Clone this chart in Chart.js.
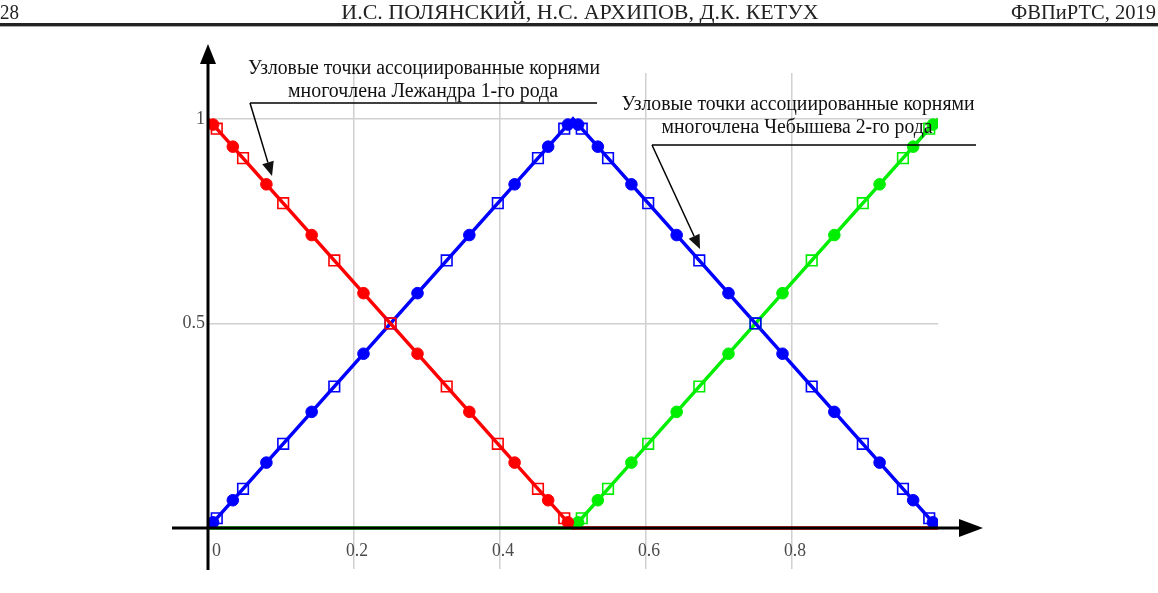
<!DOCTYPE html>
<html>
<head>
<meta charset="utf-8">
<script src="https://cdn.jsdelivr.net/npm/chart.js@4/dist/chart.umd.min.js"></script>
<style>
  html, body { margin: 0; padding: 0; background: #fff; }
  #wrap { width: 1158px; height: 593px; position: relative; }
</style>
</head>
<body>
<div id="wrap"><canvas id="chart" width="1158" height="593"></canvas></div>
<script>
// узлы и значения

// абсциссы узлов (кружки) - корни многочлена Лежандра на каждой половине отрезка
const circX = [0.007, 0.034, 0.080, 0.142, 0.213, 0.287, 0.358, 0.420, 0.466, 0.493,
               0.507, 0.534, 0.580, 0.642, 0.713, 0.787, 0.858, 0.920, 0.966, 0.993];
// абсциссы узлов (квадраты) - корни многочлена Чебышева 2-го рода
const sqX = [0.012, 0.048, 0.103, 0.173, 0.250, 0.327, 0.397, 0.452, 0.488,
             0.512, 0.548, 0.603, 0.673, 0.750, 0.827, 0.897, 0.952, 0.988];

const redCircY   = [0.986, 0.932, 0.840, 0.716, 0.574, 0.426, 0.284, 0.160, 0.068, 0.014,
                    null, null, null, null, null, null, null, null, null, null];
const blueCircY  = [0.014, 0.068, 0.160, 0.284, 0.426, 0.574, 0.716, 0.840, 0.932, 0.986,
                    0.986, 0.932, 0.840, 0.716, 0.574, 0.426, 0.284, 0.160, 0.068, 0.014];
const greenCircY = [null, null, null, null, null, null, null, null, null, null,
                    0.014, 0.068, 0.160, 0.284, 0.426, 0.574, 0.716, 0.840, 0.932, 0.986];

const redSqY   = [0.976, 0.904, 0.794, 0.654, 0.500, 0.346, 0.206, 0.096, 0.024,
                  null, null, null, null, null, null, null, null, null];
const blueSqY  = [0.024, 0.096, 0.206, 0.346, 0.500, 0.654, 0.794, 0.904, 0.976,
                  0.976, 0.904, 0.794, 0.654, 0.500, 0.346, 0.206, 0.096, 0.024];
const greenSqY = [null, null, null, null, null, null, null, null, null,
                  0.024, 0.096, 0.206, 0.346, 0.500, 0.654, 0.794, 0.904, 0.976];

// базисные функции (ломаные)
const lineX = [0, 0.5, 1];
const redLineY   = [1, 0, 0];
const blueLineY  = [0, 1, 0];
const greenLineY = [0, 0, 1];

const xTicks = [0, 0.2, 0.4, 0.6, 0.8];
const xTickLabels = ['0', '0.2', '0.4', '0.6', '0.8'];
const yTicks = [0.5, 1];
const yTickLabels = ['0.5', '1'];

const headerLeft = '28';
const headerCenter = 'И.С. ПОЛЯНСКИЙ, Н.С. АРХИПОВ, Д.К. КЕТУХ';
const headerRight = 'ФВПиРТС, 2019';
const note1 = ['Узловые точки ассоциированные корнями', 'многочлена Лежандра 1-го рода'];
const note2 = ['Узловые точки ассоциированные корнями', 'многочлена Чебышева 2-го рода'];

const RED = '#ff0000', BLUE = '#0000ff', GREEN = '#00ee00';
const SERIF = '"Liberation Serif", serif';

const pts = (xs, ys) => xs.map((x, i) => ({ x, y: ys[i] }));

function markers(xs, ys, color, style) {
  const isRect = style === 'rect';
  return {
    type: 'scatter',
    data: pts(xs, ys),
    pointStyle: style,
    pointRadius: isRect ? 7.5 : 5.8,
    pointBorderWidth: isRect ? 1.6 : 1,
    pointBorderColor: color,
    pointBackgroundColor: isRect ? 'rgba(255,255,255,0)' : color,
    showLine: false
  };
}

function line(ys, color) {
  return {
    type: 'line',
    data: pts(lineX, ys),
    borderColor: color,
    borderWidth: 3.5,
    pointRadius: 0,
    tension: 0
  };
}

function arrow(ctx, x0, y0, x1, y1, len, half) {
  const a = Math.atan2(y1 - y0, x1 - x0);
  const bx = x1 - len * Math.cos(a), by = y1 - len * Math.sin(a);
  ctx.beginPath();
  ctx.moveTo(x0, y0);
  ctx.lineTo(bx, by);
  ctx.stroke();
  ctx.beginPath();
  ctx.moveTo(x1, y1);
  ctx.lineTo(bx + half * Math.sin(a), by - half * Math.cos(a));
  ctx.lineTo(bx - half * Math.sin(a), by + half * Math.cos(a));
  ctx.closePath();
  ctx.fill();
}

// оси со стрелками, подписи делений, выноски и колонтитул
const decor = {
  id: 'decor',
  afterDatasetsDraw(chart) {
    const ctx = chart.ctx;
    const xs = chart.scales.x, ys = chart.scales.y;
    const x0 = xs.getPixelForValue(0), y0 = ys.getPixelForValue(0);
    ctx.save();
    ctx.fillStyle = '#000';
    ctx.strokeStyle = '#000';
    ctx.lineWidth = 3;
    arrow(ctx, 172, y0, 983, y0, 24, 9);
    arrow(ctx, x0, 570, x0, 44, 20, 8);

    // подписи оси x
    ctx.font = '18px ' + SERIF;
    ctx.fillStyle = '#4a4a4a';
    ctx.textBaseline = 'alphabetic';
    xTicks.forEach((v, i) => {
      const px = xs.getPixelForValue(v);
      ctx.textAlign = v === 0 ? 'left' : 'center';
      ctx.fillText(xTickLabels[i], v === 0 ? px + 4 : px + 3, 556, 22);
    });

    // выноски
    ctx.fillStyle = '#111';
    ctx.strokeStyle = '#000';
    ctx.lineWidth = 1.5;
    ctx.font = '20px ' + SERIF;
    ctx.textAlign = 'center';
    ctx.fillText(note1[0], 424, 74, 352);
    ctx.fillText(note1[1], 423, 97, 270);
    ctx.fillText(note2[0], 798, 110, 353);
    ctx.fillText(note2[1], 797, 133, 271);
    ctx.beginPath(); ctx.moveTo(250, 103); ctx.lineTo(597, 103); ctx.stroke();
    ctx.beginPath(); ctx.moveTo(652, 145); ctx.lineTo(976, 145); ctx.stroke();
    arrow(ctx, 250, 103, 272, 176, 14, 6);
    arrow(ctx, 652, 145, 700, 249, 14, 6);

    // колонтитул
    ctx.fillStyle = '#222';
    ctx.font = '22px ' + SERIF;
    ctx.textAlign = 'left';
    ctx.fillText(headerLeft, 0, 19, 19);
    ctx.textAlign = 'center';
    ctx.fillText(headerCenter, 580, 19, 484);
    ctx.textAlign = 'right';
    ctx.fillText(headerRight, 1156, 19, 145);
    ctx.fillStyle = '#222';
    ctx.fillRect(0, 23, 1158, 3);
    ctx.fillStyle = '#aaa';
    ctx.fillRect(0, 26, 1158, 1);
    ctx.restore();
  }
};

new Chart(document.getElementById('chart'), {
  data: {
    datasets: [
      markers(sqX, redSqY, RED, 'rect'),
      markers(sqX, blueSqY, BLUE, 'rect'),
      markers(sqX, greenSqY, GREEN, 'rect'),
      markers(circX, redCircY, RED, 'circle'),
      markers(circX, blueCircY, BLUE, 'circle'),
      markers(circX, greenCircY, GREEN, 'circle'),
      line(redLineY, RED),
      line(blueLineY, BLUE),
      line(greenLineY, GREEN)
    ]
  },
  options: {
    responsive: false,
    animation: false,
    layout: { padding: { left: 0, top: 73, right: 220, bottom: 24 } },
    plugins: { legend: { display: false }, tooltip: { enabled: false } },
    scales: {
      x: {
        type: 'linear', min: 0, max: 1,
        afterBuildTicks: s => { s.ticks = xTicks.map(v => ({ value: v })); },
        afterFit: s => { s.height = 0; },
        ticks: { display: false },
        border: { display: false },
        grid: { color: '#d0d0d0', lineWidth: 1.5, drawTicks: false }
      },
      y: {
        type: 'linear', min: -0.1, max: 1.112,
        afterBuildTicks: s => { s.ticks = yTicks.map(v => ({ value: v })); },
        afterFit: s => { s.width = 208; },
        ticks: {
          padding: 3,
          color: '#4a4a4a',
          font: { family: SERIF, size: 18 },
          callback: (v) => yTickLabels[yTicks.indexOf(v)]
        },
        border: { display: false },
        grid: { color: '#d0d0d0', lineWidth: 1.5, drawTicks: false }
      }
    }
  },
  plugins: [decor]
});
</script>
</body>
</html>
